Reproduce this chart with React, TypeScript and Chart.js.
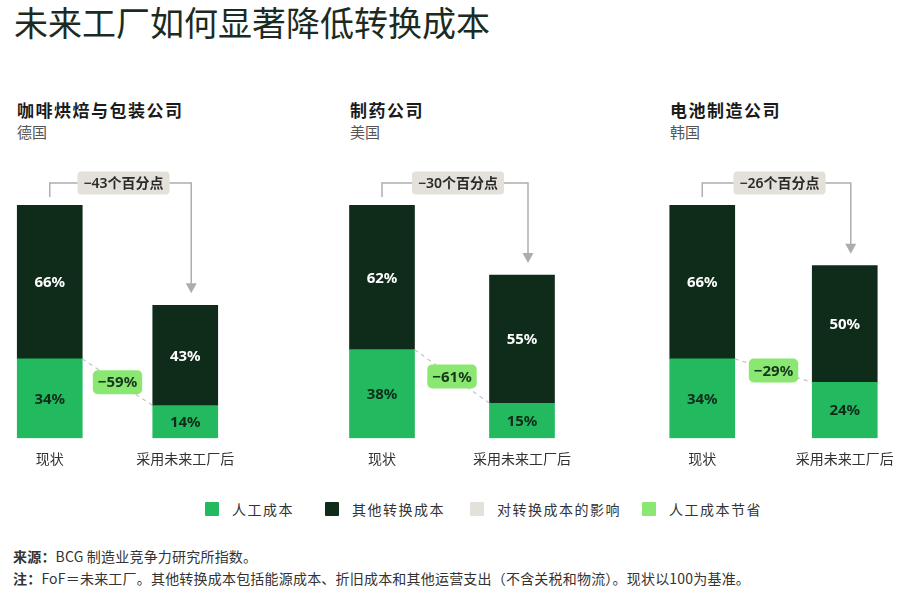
import { useEffect, useRef } from 'react'
import { Chart, BarController, BarElement, CategoryScale, LinearScale } from 'chart.js'

Chart.register(BarController, BarElement, CategoryScale, LinearScale);

const panelTitles = ['咖啡烘焙与包装公司', '制药公司', '电池制造公司'];
const panelCountries = ['德国', '美国', '韩国'];
const stages = ['现状', '采用未来工厂后'];
const laborCost = [[34, 14], [38, 15], [34, 24]];
const otherCost = [[66, 43], [62, 55], [66, 50]];
const conversionImpact = ['−43个百分点', '−30个百分点', '−26个百分点'];
const laborSavings = ['−59%', '−61%', '−29%'];
const legendLabels = ['人工成本', '其他转换成本', '对转换成本的影响', '人工成本节省'];

const LABOR = '#22b95f';
const OTHER = '#0f2b1a';
const IMPACT = '#e4e1db';
const SAVING = '#8ae872';
const LINE = '#adadad';
const FONT = '"Noto Sans", "Noto Sans CJK SC", sans-serif';
const CJK = '"Noto Sans CJK SC", "Noto Sans", sans-serif';

// where each panel's chart area sits on the page
const panelLayout = [
  { textLeft: 17, areaLeft: -18, areaWidth: 271 },
  { textLeft: 350, areaLeft: 312, areaWidth: 280 },
  { textLeft: 670, areaLeft: 631, areaWidth: 285 },
];

const annotations = {
  id: 'annotations',
  afterDraw(chart: any, _args: any, opts: any) {
    const ctx: CanvasRenderingContext2D = chart.ctx;
    const labor = chart.getDatasetMeta(0).data;
    const other = chart.getDatasetMeta(1).data;
    if (!labor.length || !other.length) return;

    // value labels inside the segments
    ctx.save();
    ctx.textAlign = 'center';
    ctx.textBaseline = 'middle';
    ctx.font = `bold 15px ${FONT}`;
    chart.data.datasets.forEach((ds: any, i: number) => {
      chart.getDatasetMeta(i).data.forEach((el: any, j: number) => {
        ctx.fillStyle = i === 0 ? OTHER : '#ffffff';
        ctx.fillText(`${ds.data[j]}%`, el.x, (el.y + el.base) / 2 + 1);
      });
    });

    // bracket with arrow: change in total conversion cost
    const x1 = other[0].x;
    const x2 = other[1].x + 6;
    const top1 = other[0].y;
    const top2 = other[1].y;
    const yLine = top1 - 22;
    ctx.strokeStyle = LINE;
    ctx.lineWidth = 1.5;
    ctx.beginPath();
    ctx.moveTo(x1, top1 - 8);
    ctx.lineTo(x1, yLine);
    ctx.lineTo(x2, yLine);
    ctx.lineTo(x2, top2 - 21);
    ctx.stroke();
    ctx.fillStyle = LINE;
    ctx.beginPath();
    ctx.moveTo(x2 - 5.5, top2 - 22);
    ctx.lineTo(x2 + 5.5, top2 - 22);
    ctx.lineTo(x2, top2 - 12);
    ctx.closePath();
    ctx.fill();

    ctx.font = `600 14px ${FONT}`;
    const tw = ctx.measureText(opts.impact).width;
    const cx = (x1 + x2) / 2 + 3;
    ctx.fillStyle = IMPACT;
    ctx.beginPath();
    ctx.roundRect(cx - tw / 2 - 6, yLine - 11.5, tw + 12, 23, 4);
    ctx.fill();
    ctx.fillStyle = '#2b2b2b';
    ctx.fillText(opts.impact, cx, yLine + 1);

    // dashed link between labor segments with savings pill
    const lx1 = labor[0].x + labor[0].width / 2;
    const ly1 = labor[0].y;
    const lx2 = labor[1].x - labor[1].width / 2;
    const ly2 = labor[1].y;
    ctx.strokeStyle = '#c4c4c4';
    ctx.lineWidth = 1.2;
    ctx.setLineDash([4, 4]);
    ctx.beginPath();
    ctx.moveTo(lx1, ly1);
    ctx.lineTo(lx2, ly2);
    ctx.stroke();
    ctx.setLineDash([]);

    ctx.font = `bold 15px ${FONT}`;
    const sw = ctx.measureText(opts.saving).width;
    const mx = (lx1 + lx2) / 2;
    const my = (ly1 + ly2) / 2;
    ctx.fillStyle = SAVING;
    ctx.beginPath();
    ctx.roundRect(mx - sw / 2 - 5, my - 12, sw + 10, 24, 5);
    ctx.fill();
    ctx.fillStyle = '#17361f';
    ctx.fillText(opts.saving, mx, my + 1);
    ctx.restore();
  },
};

function Panel({ index }: { index: number }) {
  const canvasRef = useRef<HTMLCanvasElement>(null);
  const chartRef = useRef<Chart | null>(null);
  const layout = panelLayout[index];

  useEffect(() => {
    if (!canvasRef.current) return;
    chartRef.current?.destroy();
    chartRef.current = new Chart(canvasRef.current, {
      type: 'bar',
      data: {
        labels: stages,
        datasets: [
          { label: legendLabels[0], data: laborCost[index], backgroundColor: LABOR, barThickness: 65, borderWidth: 0 },
          { label: legendLabels[1], data: otherCost[index], backgroundColor: OTHER, barThickness: 65, borderWidth: 0 },
        ],
      },
      plugins: [annotations as any],
      options: {
        responsive: true,
        maintainAspectRatio: false,
        animation: false,
        events: [],
        layout: { padding: { top: 45, bottom: 1, left: 0, right: 0 } },
        plugins: {
          legend: { display: false },
          tooltip: { enabled: false },
          annotations: { impact: conversionImpact[index], saving: laborSavings[index] },
        } as any,
        scales: {
          x: {
            stacked: true,
            grid: { display: false, drawTicks: false },
            border: { display: false },
            ticks: { color: '#333333', font: { family: CJK, size: 14 }, padding: 12 },
          },
          y: { stacked: true, display: false, min: 0, max: 100 },
        },
      },
    });
    return () => {
      chartRef.current?.destroy();
      chartRef.current = null;
    };
  }, [index]);

  return (
    <>
      <div style={{ position: 'absolute', left: layout.textLeft, top: 97, fontFamily: CJK, fontWeight: 700, fontSize: 17, letterSpacing: 1.5, color: '#1a1a1a', whiteSpace: 'nowrap' }}>
        {panelTitles[index]}
      </div>
      <div style={{ position: 'absolute', left: layout.textLeft, top: 121, fontFamily: CJK, fontSize: 15, color: '#555555' }}>
        {panelCountries[index]}
      </div>
      <div style={{ position: 'absolute', left: layout.areaLeft, top: 160, width: layout.areaWidth, height: 320 }}>
        <canvas ref={canvasRef} />
      </div>
    </>
  );
}

const legendColors = [LABOR, OTHER, IMPACT, SAVING];
const legendLefts = [205, 325, 470, 642];

export default function App() {
  return (
    <div style={{ position: 'absolute', left: 0, top: 0, width: 900, height: 593, overflow: 'hidden', background: '#ffffff', fontFamily: CJK }}>
      <div style={{ position: 'absolute', left: 14, top: -3, fontSize: 34, color: '#1c2b22', whiteSpace: 'nowrap' }}>
        未来工厂如何显著降低转换成本
      </div>
      {panelTitles.map((_, i) => <Panel key={i} index={i} />)}
      {legendLabels.map((label, i) => (
        <div key={label} style={{ position: 'absolute', left: legendLefts[i], top: 499, display: 'flex', alignItems: 'center', gap: 13, fontSize: 14, letterSpacing: 1.5, color: '#333333', whiteSpace: 'nowrap' }}>
          <span style={{ display: 'inline-block', width: 14, height: 14, background: legendColors[i], borderRadius: 1 }} />
          <span>{label}</span>
        </div>
      ))}
      <div style={{ position: 'absolute', left: 13, top: 546, fontSize: 14, letterSpacing: 0.2, color: '#333333', whiteSpace: 'nowrap' }}>
        <b>来源：</b>BCG 制造业竞争力研究所指数。
      </div>
      <div style={{ position: 'absolute', left: 13, top: 568, fontSize: 14, letterSpacing: 0.2, color: '#333333', whiteSpace: 'nowrap' }}>
        <b>注：</b>FoF＝未来工厂。其他转换成本包括能源成本、折旧成本和其他运营支出（不含关税和物流）。现状以100为基准。
      </div>
    </div>
  );
}
